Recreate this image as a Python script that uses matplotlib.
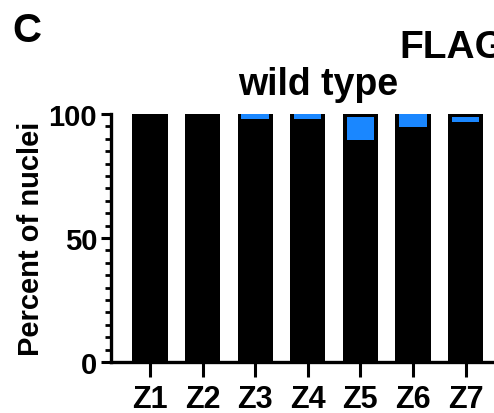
import numpy as np
import matplotlib
matplotlib.use("Agg")
import matplotlib.pyplot as plt
from matplotlib.ticker import MultipleLocator

plt.rcParams['font.family'] = ['Liberation Sans', 'DejaVu Sans']
plt.rcParams['font.weight'] = 'bold'

# Data: percent of nuclei per zone (wild type)
zones = ["Z1", "Z2", "Z3", "Z4", "Z5", "Z6", "Z7"]
black_pct = [100, 100, 98.0, 98.0, 89.5, 94.6, 96.8]
blue_pct = [0, 0, 2.0, 2.0, 9.2, 5.4, 1.9]
top_pct = [0, 0, 0, 0, 1.3, 0, 1.3]

black_pct = np.array(black_pct)
blue_pct = np.array(blue_pct)
top_pct = np.array(top_pct)
x = np.arange(len(zones))

fig = plt.figure(figsize=(4.94, 4.14), dpi=100)
ax = fig.add_axes([111 / 494, 51 / 414, 414 / 494, 248 / 414])

# full bar in black, then the blue segment inset on top of it
ax.bar(x, black_pct + blue_pct + top_pct, width=0.67, color="black", zorder=2)
ax.bar(x, blue_pct, bottom=black_pct, width=0.52, color="#1a87ff", zorder=3)

ax.set_xlim(-0.74, 7.13)
ax.set_ylim(0, 100)
ax.set_xticks(x)
ax.set_xticklabels(zones, fontsize=22, fontweight="bold")
ax.set_yticks([0, 50, 100])
ax.set_yticklabels(["0", "50", "100"], fontsize=21, fontweight="bold")
ax.yaxis.set_minor_locator(MultipleLocator(5))

ax.tick_params(axis="x", length=11, width=2.2, pad=5)
ax.tick_params(axis="y", which="major", length=7, width=2.2, pad=3)
ax.tick_params(axis="y", which="minor", length=4, width=2.0)

for side in ["top", "right"]:
    ax.spines[side].set_visible(False)
for side in ["left", "bottom"]:
    ax.spines[side].set_linewidth(2.4)

ax.set_ylabel("Percent of nuclei", fontsize=21, fontweight="bold")
ax.yaxis.set_label_coords(-0.16, 0.5)

fig.text(12.7 / 494, 1 - 41.7 / 414, "C", fontsize=29, fontweight="bold", va="baseline")
fig.text(318 / 494, 1 - 95 / 414, "wild type", fontsize=27, fontweight="bold",
         ha="center", va="baseline")
fig.text(399 / 494, 1 - 58 / 414, "FLAG", fontsize=28, fontweight="bold", va="baseline")

fig.savefig("out.png", dpi=100)
